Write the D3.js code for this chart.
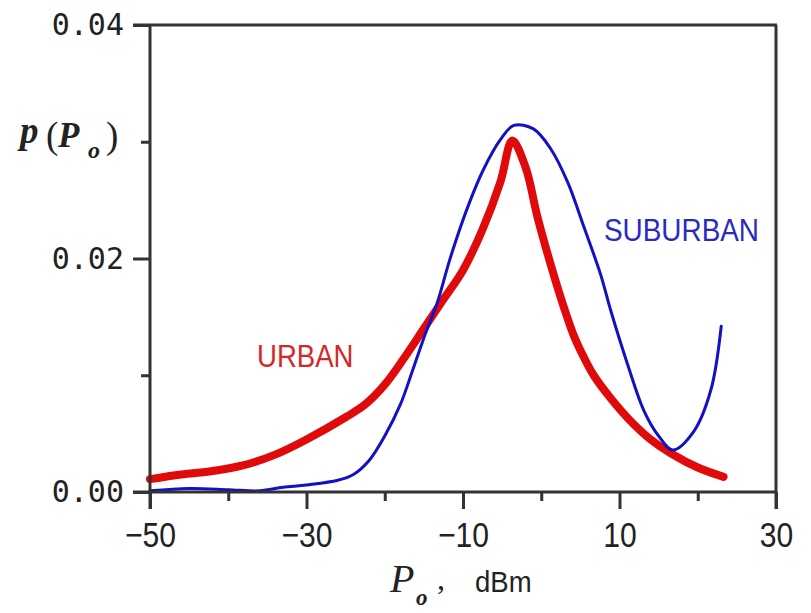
<!DOCTYPE html>
<html>
<head>
<meta charset="utf-8">
<script src="https://cdn.jsdelivr.net/npm/d3@7"></script>
<style>
  html, body { margin: 0; padding: 0; background: #fff; }
  svg { display: block; }
</style>
</head>
<body>
<svg id="chart" width="811" height="613"></svg>
<script>
// ---- data ----
const xMajorTicks = [-50, -30, -10, 10, 30];
const xMinorTicks = [-40, -20, 0, 20];
const yMajorTicks = [0, 0.02, 0.04];
const yMinorTicks = [0.01, 0.03];
const yTickLabels = ["0.00", "0.02", "0.04"];

const urbanX = [-50, -46, -42, -38, -34, -30, -25, -22.5, -20, -17.5, -15, -12.5, -10, -7.5, -5.2, -3.7, -2.0, -0.5, 1.2, 2.9, 4.1, 5.4, 6.7, 8.9, 11.1, 13.8, 16.6, 20, 23.3];
const urbanY = [0.0011, 0.0015, 0.0018, 0.0023, 0.0032, 0.0045, 0.0064, 0.0075, 0.0092, 0.0115, 0.0140, 0.0165, 0.0190, 0.0225, 0.0266, 0.0301, 0.0278, 0.0236, 0.0195, 0.0158, 0.0135, 0.0116, 0.0100, 0.0080, 0.0063, 0.0046, 0.0033, 0.0021, 0.0013];

const suburbanX = [-50, -45, -40, -36, -33, -30, -26, -24, -22, -20, -18, -16.5, -15, -13.3, -11.6, -9.4, -7.4, -5.2, -3.5, -1.0, 1.2, 3.4, 5.4, 7.6, 8.9, 11.1, 13.1, 15, 16.8, 19.5, 21.7, 23.0];
const suburbanY = [0.0001, 0.0003, 0.0002, 0.0001, 0.0004, 0.0006, 0.0010, 0.0015, 0.0027, 0.0048, 0.0075, 0.0103, 0.0132, 0.0162, 0.0201, 0.0244, 0.0276, 0.0302, 0.0314, 0.0311, 0.0294, 0.0265, 0.0228, 0.0186, 0.0155, 0.0108, 0.0070, 0.0048, 0.0036, 0.0052, 0.0088, 0.0142];

// ---- layout ----
const svg = d3.select("#chart");
const x = d3.scaleLinear().domain([-50, 30]).range([150, 776]);
const y = d3.scaleLinear().domain([0, 0.04]).range([492, 25]);
const axisColor = "#333";
const sans = "'Liberation Sans', Arial, sans-serif";
const serif = "'Liberation Serif', 'Times New Roman', serif";

// curves
const line = d3.line().x(d => x(d[0])).y(d => y(d[1])).curve(d3.curveCatmullRom.alpha(0.5));
const urban = urbanX.map((v, i) => [v, urbanY[i]]);
const suburban = suburbanX.map((v, i) => [v, suburbanY[i]]);

svg.append("path").attr("d", line(urban))
  .attr("fill", "none").attr("stroke", "#e00a0a").attr("stroke-width", 8)
  .attr("stroke-linecap", "round").attr("stroke-linejoin", "round");
svg.append("path").attr("d", line(suburban))
  .attr("fill", "none").attr("stroke", "#1212c4").attr("stroke-width", 3)
  .attr("stroke-linecap", "round").attr("stroke-linejoin", "round");

// frame: top & right
svg.append("line").attr("x1", x(-50) - 17).attr("x2", x(30) + 1)
  .attr("y1", y(0.04)).attr("y2", y(0.04)).attr("stroke", axisColor).attr("stroke-width", 3);
svg.append("line").attr("x1", x(30)).attr("x2", x(30))
  .attr("y1", y(0.04)).attr("y2", y(0) + 17).attr("stroke", axisColor).attr("stroke-width", 3);

// left axis
const yAxisMajor = d3.axisLeft(y).tickValues(yMajorTicks).tickSize(17)
  .tickFormat((d, i) => yTickLabels[i]).tickPadding(9);
const gy = svg.append("g").attr("transform", `translate(${x(-50)},0)`).call(yAxisMajor);
gy.select(".domain").remove();
gy.selectAll(".tick line").attr("stroke", axisColor).attr("stroke-width", 3);
gy.selectAll(".tick text").attr("font-family", "'DejaVu Sans Mono', monospace")
  .attr("font-size", 30).attr("fill", "#222");
const yAxisMinor = d3.axisLeft(y).tickValues(yMinorTicks).tickSize(9).tickFormat("");
const gy2 = svg.append("g").attr("transform", `translate(${x(-50)},0)`).call(yAxisMinor);
gy2.select(".domain").remove();
gy2.selectAll(".tick line").attr("stroke", axisColor).attr("stroke-width", 3);
svg.append("line").attr("x1", x(-50)).attr("x2", x(-50))
  .attr("y1", y(0.04) - 1).attr("y2", y(0) + 17).attr("stroke", axisColor).attr("stroke-width", 3);

// bottom axis
const xAxisMajor = d3.axisBottom(x).tickValues(xMajorTicks).tickSize(17)
  .tickFormat(d => d < 0 ? "\u2212" + Math.abs(d) : String(d)).tickPadding(0);
const gx = svg.append("g").attr("transform", `translate(0,${y(0)})`).call(xAxisMajor);
gx.select(".domain").remove();
gx.selectAll(".tick line").attr("stroke", axisColor).attr("stroke-width", 3);
gx.selectAll(".tick text")
  .attr("y", 55).attr("dy", null)
  .attr("transform", "scale(0.86,1)")
  .attr("font-family", sans).attr("font-size", 35).attr("fill", "#222");
const xAxisMinor = d3.axisBottom(x).tickValues(xMinorTicks).tickSize(9).tickFormat("");
const gx2 = svg.append("g").attr("transform", `translate(0,${y(0)})`).call(xAxisMinor);
gx2.select(".domain").remove();
gx2.selectAll(".tick line").attr("stroke", axisColor).attr("stroke-width", 3);
svg.append("line").attr("x1", x(-50) - 17).attr("x2", x(30) + 1)
  .attr("y1", y(0)).attr("y2", y(0)).attr("stroke", axisColor).attr("stroke-width", 3);

// y axis title p(P_o)
const ytitle = svg.append("g").attr("fill", "#222").attr("font-family", serif);
ytitle.append("text").attr("x", 20).attr("y", 143).attr("font-size", 37)
  .attr("font-style", "italic").attr("font-weight", "bold").text("p");
ytitle.append("text").attr("x", 46).attr("y", 148).attr("font-size", 37).text("(");
ytitle.append("text").attr("x", 58).attr("y", 147).attr("font-size", 35)
  .attr("font-style", "italic").attr("font-weight", "bold").text("P");
ytitle.append("text").attr("x", 88).attr("y", 158).attr("font-size", 24)
  .attr("font-style", "italic").attr("font-weight", "bold").text("o");
ytitle.append("text").attr("x", 106).attr("y", 148).attr("font-size", 37).text(")");

// x axis title P_o, dBm
const xtitle = svg.append("g").attr("fill", "#222");
xtitle.append("text").attr("x", 390).attr("y", 592).attr("font-family", serif)
  .attr("font-size", 40).attr("font-style", "italic").text("P");
xtitle.append("text").attr("x", 416).attr("y", 605).attr("font-family", serif)
  .attr("font-size", 23).attr("font-style", "italic").attr("font-weight", "bold").text("o");
xtitle.append("text").attr("x", 437).attr("y", 589).attr("font-family", serif)
  .attr("font-size", 32).text(",");
xtitle.append("text").attr("x", 475).attr("y", 592).attr("font-family", sans)
  .attr("font-size", 29).attr("transform", "translate(475,0) scale(0.95,1) translate(-475,0)").text("dBm");

// series labels
svg.append("text")
  .attr("transform", "translate(604,241) scale(0.9,1)")
  .attr("font-family", sans).attr("font-size", 31).attr("fill", "#2a2ac0").text("SUBURBAN");
svg.append("text")
  .attr("transform", "translate(257,367) scale(0.89,1)")
  .attr("font-family", sans).attr("font-size", 31).attr("fill", "#d42828").text("URBAN");
</script>
</body>
</html>
